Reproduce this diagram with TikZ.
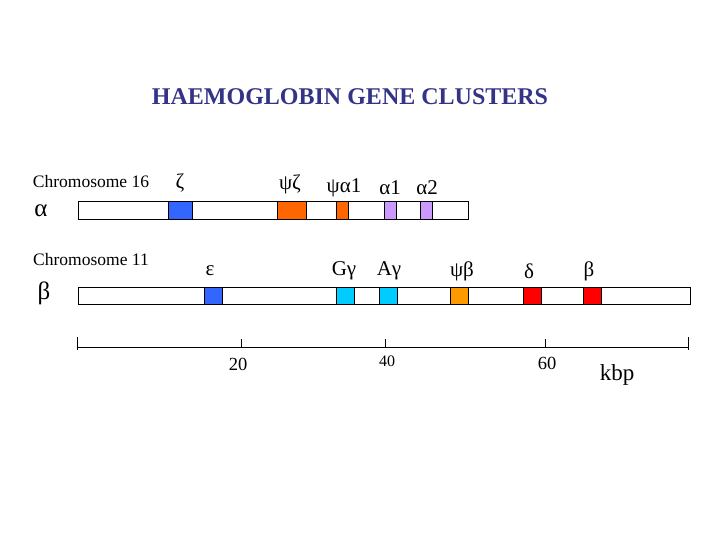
\documentclass[tikz,border=0pt]{standalone}
\usepackage{fontspec}
\setmainfont{Liberation Serif}
\usepackage{xcolor}
\definecolor{cTitle}{HTML}{333388}
\definecolor{cBlue}{HTML}{3366FF}
\definecolor{cOrange}{HTML}{FF6600}
\definecolor{cAmber}{HTML}{FF9900}
\definecolor{cLilac}{HTML}{CC99FF}
\definecolor{cCyan}{HTML}{00CCFF}
\definecolor{cRed}{HTML}{FF0000}
\tikzset{
  bar/.style={draw, line width=0.7pt, fill=white},
  gene/.style={draw, line width=0.7pt},
  glabel/.style={font=\fontsize{21}{23}\selectfont},
  chrom/.style={font=\fontsize{17.5}{19}\selectfont},
  ticklabel/.style={font=\fontsize{18.5}{20}\selectfont}
}

\begin{document}
\begin{tikzpicture}[x=1pt, y=-1pt]
		\useasboundingbox (0,0) rectangle (720,540);
		\node[font=\bfseries\fontsize{24}{26}\selectfont, text=cTitle] (title) at (350,97) {HAEMOGLOBIN GENE CLUSTERS};
		% alpha cluster
		\node[chrom] (chr16) at (91,182) {Chromosome 16};
		\node[font=\fontsize{25}{27}\selectfont] (alpha) at (41,211) {α};
		\draw[bar] (78,201) rectangle (468,219);
		\draw[gene, fill=cBlue] (168,201) rectangle (192,219);
		\draw[gene, fill=cOrange] (277,201) rectangle (306,219);
		\draw[gene, fill=cOrange] (336,201) rectangle (348,219);
		\draw[gene, fill=cLilac] (384,201) rectangle (396,219);
		\draw[gene, fill=cLilac] (420,201) rectangle (432,219);
		\node[glabel] (zeta) at (180,183) {ζ};
		\node[glabel] (psizeta) at (290,184) {ψζ};
		\node[glabel] (psialpha1) at (344,188) {ψα1};
		\node[glabel] (alpha1) at (390,188) {α1};
		\node[glabel] (alpha2) at (427,188) {α2};
		% beta cluster
		\node[chrom] (chr11) at (91,260) {Chromosome 11};
		\node[font=\fontsize{25}{27}\selectfont] (beta) at (44,293) {β};
		\draw[bar] (78,287) rectangle (690,304);
		\draw[gene, fill=cBlue] (204,287) rectangle (222,304);
		\draw[gene, fill=cCyan] (336,287) rectangle (354,304);
		\draw[gene, fill=cCyan] (379,287) rectangle (397,304);
		\draw[gene, fill=cAmber] (450,287) rectangle (468,304);
		\draw[gene, fill=cRed] (523,287) rectangle (541,304);
		\draw[gene, fill=cRed] (583,287) rectangle (601,304);
		\node[glabel] (epsilon) at (210,271) {ε};
		\node[glabel] (Ggamma) at (344,271) {Gγ};
		\node[glabel] (Agamma) at (389,271) {Aγ};
		\node[glabel] (psibeta) at (462,271) {ψβ};
		\node[glabel] (delta) at (529,271) {δ};
		\node[glabel] (betag) at (589,271) {β};
		% scale
		\coordinate (s0) at (77,347);
		\coordinate (s80) at (688,347);
		\draw[line width=0.7pt] (s0) -- (s80);
		\draw[line width=0.7pt] (77,337) -- (77,350) (688,337) -- (688,350)
			(241,339) -- (241,347) (385,339) -- (385,347) (545,339) -- (545,347);
		\node[ticklabel] (t20) at (238,364) {20};
		\node[font=\fontsize{16}{18}\selectfont] (t40) at (387,361) {40};
		\node[ticklabel] (t60) at (547,363) {60};
		\node[font=\fontsize{23}{25}\selectfont] (kbp) at (617,375) {kbp};
\end{tikzpicture}
\end{document}
